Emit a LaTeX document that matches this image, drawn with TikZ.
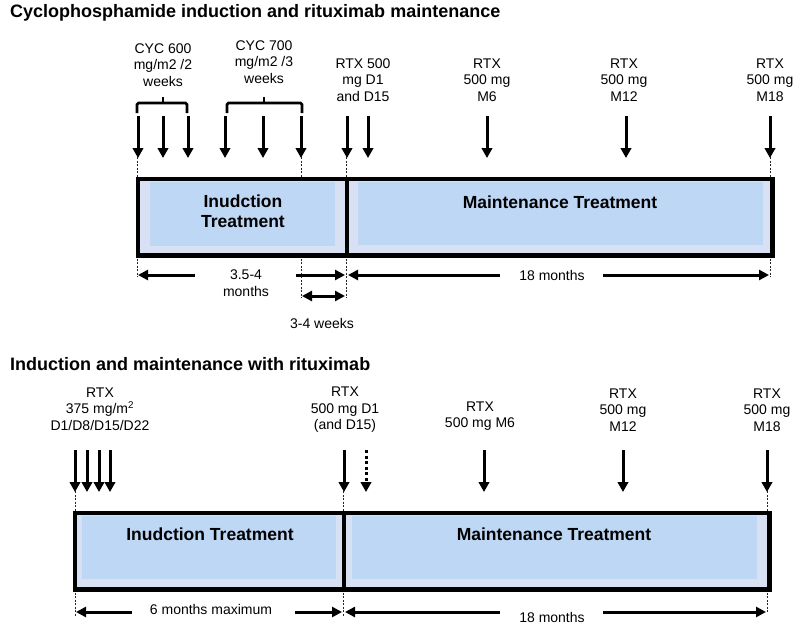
\documentclass[tikz,border=0pt]{standalone}
\usepackage{fontspec}
\setmainfont{Liberation Sans}
\usetikzlibrary{arrows.meta}
\definecolor{boxouter}{RGB}{216,225,244}
\definecolor{boxinner}{RGB}{189,215,245}
\begin{document}
\begin{tikzpicture}[x=1pt,y=-1pt,
  dose/.style={line width=3pt,-{Triangle[width=10.5pt,length=10pt]}},
  dosedot/.style={dose,dash pattern=on 3pt off 2.6pt},
  dim/.style={line width=3pt,-{Triangle[width=10pt,length=10pt]}},
  dimboth/.style={line width=3pt,{Triangle[width=10pt,length=10pt]}-{Triangle[width=10pt,length=10pt]}},
  guide/.style={line width=0.6pt,dash pattern=on 2pt off 1.5pt,black!85},
  lbl/.style={align=center,inner sep=0pt,font=\fontsize{14}{16.5}\selectfont},
  boxlbl/.style={align=center,inner sep=0pt,font=\fontsize{17.5}{20.5}\selectfont\bfseries},
  titlelbl/.style={anchor=base west,inner sep=0pt,font=\fontsize{18}{21}\selectfont\bfseries},
  phase/.style={draw,line width=3pt,fill=boxouter,anchor=north west,inner sep=0pt},
  innerfill/.style={fill=boxinner},
  bracket/.style={line width=2.6pt,rounded corners=1.5pt}]

\useasboundingbox (0,0) rectangle (796,624);

% ---------------- titles ----------------
\node[titlelbl] (t1) at (10,17) {Cyclophosphamide induction and rituximab maintenance};
\node[titlelbl] (t2) at (10,370) {Induction and maintenance with rituximab};

% ---------------- top panel ----------------
\coordinate (g1a) at (137.5,157); \coordinate (g1b) at (137.5,277);
\coordinate (g2a) at (301,157);   \coordinate (g2b) at (301,298);
\coordinate (g3a) at (346.5,157); \coordinate (g3b) at (346.5,298);
\coordinate (g4a) at (770,157);   \coordinate (g4b) at (770,277);
\foreach \g in {g1,g2,g3,g4} \draw[guide] (\g a) -- (\g b);

\node[phase,minimum width=209pt,minimum height=75pt] (ind1) at (137,178) {};
\node[phase,minimum width=424pt,minimum height=75pt] (main1) at (346,178) {};
\fill[innerfill] (150,182) rectangle (335,246);
\fill[innerfill] (358,182) rectangle (763,245);
\draw[line width=3pt] (ind1.north west) rectangle (main1.south east);
\draw[line width=3pt] (main1.north west) -- (main1.south west);
\node[boxlbl] (ind1t) at (243,211) {Inudction\\Treatment};
\node[boxlbl] (main1t) at (560,202) {Maintenance Treatment};

\foreach \x/\n in {138/a1,163/a2,188/a3,225/a4,263/a5,301/a6,347/a7,368/a8,487/a9,626/a10,770/a11}{
  \coordinate (\n s) at (\x,116); \coordinate (\n e) at (\x,158);
  \draw[dose] (\n s) -- (\n e);
}

\coordinate (b1l) at (137,113); \coordinate (b1r) at (187,113); \coordinate (b1c) at (163,97);
\draw[bracket] (b1l) -- ++(0,-10) -| (b1r);
\draw[line width=2.6pt] (b1c) -- ++(0,6);
\coordinate (b2l) at (227,113); \coordinate (b2r) at (302,113); \coordinate (b2c) at (264,97);
\draw[bracket] (b2l) -- ++(0,-10) -| (b2r);
\draw[line width=2.6pt] (b2c) -- ++(0,6);

\node[lbl] (l1) at (163,65) {CYC 600\\mg/m2 /2\\weeks};
\node[lbl] (l2) at (264,62) {CYC 700\\mg/m2 /3\\weeks};
\node[lbl] (l3) at (363,80) {RTX 500\\mg D1\\and D15};
\node[lbl] (l4) at (487,80) {RTX\\500 mg\\M6};
\node[lbl] (l5) at (624,80) {RTX\\500 mg\\M12};
\node[lbl] (l6) at (770,80) {RTX\\500 mg\\M18};

\coordinate (d1a) at (195,275); \coordinate (d1b) at (138,275);
\coordinate (d2a) at (296,275); \coordinate (d2b) at (345,275);
\coordinate (d3a) at (500,275); \coordinate (d3b) at (348,275);
\coordinate (d4a) at (603,275); \coordinate (d4b) at (769,275);
\coordinate (d5a) at (302,296); \coordinate (d5b) at (345,296);
\draw[dim] (d1a) -- (d1b);
\draw[dim] (d2a) -- (d2b);
\draw[dim] (d3a) -- (d3b);
\draw[dim] (d4a) -- (d4b);
\draw[dimboth] (d5a) -- (d5b);
\node[lbl] (m1) at (246,283) {3.5-4\\months};
\node[lbl] (m2) at (552,275) {18 months};
\node[lbl] (m3) at (322,323) {3-4 weeks};

% ---------------- bottom panel ----------------
\coordinate (h1a) at (75,491);    \coordinate (h1b) at (75,617);
\coordinate (h2a) at (343.5,491); \coordinate (h2b) at (343.5,617);
\coordinate (h3a) at (767,491);   \coordinate (h3b) at (767,612);
\foreach \g in {h1,h2,h3} \draw[guide] (\g a) -- (\g b);

\node[phase,minimum width=269pt,minimum height=75pt] (ind2) at (74,512) {};
\node[phase,minimum width=424pt,minimum height=75pt] (main2) at (343,512) {};
\fill[innerfill] (82,516) rectangle (336,579);
\fill[innerfill] (352,516) rectangle (757,579);
\draw[line width=3pt] (ind2.north west) rectangle (main2.south east);
\draw[line width=3pt] (main2.north west) -- (main2.south west);
\node[boxlbl] (ind2t) at (210,534) {Inudction Treatment};
\node[boxlbl] (main2t) at (554,534) {Maintenance Treatment};

\foreach \x/\n in {75/c1,87/c2,99/c3,110/c4,344/c5,484/c7,623/c8,767/c9}{
  \coordinate (\n s) at (\x,450); \coordinate (\n e) at (\x,492);
  \draw[dose] (\n s) -- (\n e);
}
\coordinate (c6s) at (366,450); \coordinate (c6e) at (366,492);
\draw[dosedot] (c6s) -- (c6e);

\node[lbl] (k1) at (100,409) {RTX\\375 mg/m\textsuperscript{2}\\D1/D8/D15/D22};
\node[lbl] (k2) at (345,410) {RTX\\500 mg D1\\(and D15)};
\node[lbl] (k3) at (480,416) {RTX\\500 mg M6};
\node[lbl] (k4) at (623,410) {RTX\\500 mg\\M12};
\node[lbl] (k5) at (767,410) {RTX\\500 mg\\M18};

\coordinate (e1a) at (132,612); \coordinate (e1b) at (76,612);
\coordinate (e2a) at (295,612); \coordinate (e2b) at (342,612);
\coordinate (e3a) at (500,612); \coordinate (e3b) at (345,612);
\coordinate (e4a) at (603,612); \coordinate (e4b) at (766,612);
\draw[dim] (e1a) -- (e1b);
\draw[dim] (e2a) -- (e2b);
\draw[dim] (e3a) -- (e3b);
\draw[dim] (e4a) -- (e4b);
\node[lbl] (n1) at (211,609) {6 months maximum};
\node[lbl] (n2) at (552,617) {18 months};
\end{tikzpicture}
\end{document}
